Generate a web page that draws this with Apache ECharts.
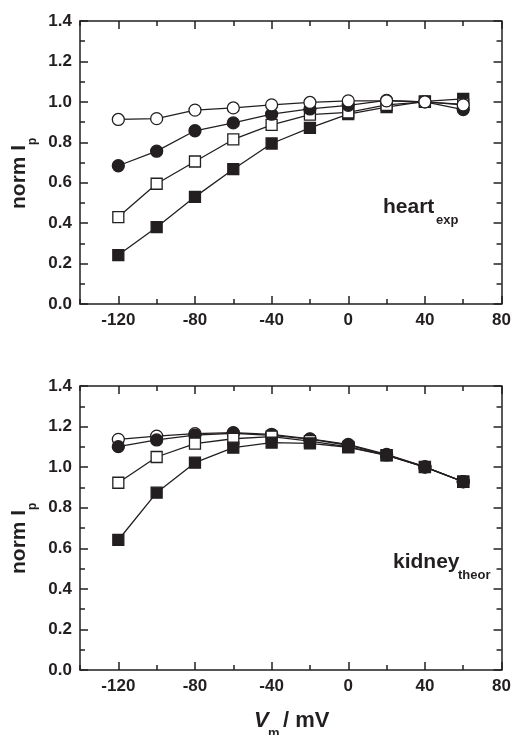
<!DOCTYPE html>
<html>
<head>
<meta charset="utf-8">
<script src="https://cdn.jsdelivr.net/npm/echarts@6/dist/echarts.min.js"></script>
<style>html,body{margin:0;padding:0;background:#fff;}#c{width:514px;height:735px;}</style>
</head>
<body>
<div id="c"></div>
<script>
// ---- data ----
const voltages = [-120, -100, -80, -60, -40, -20, 0, 20, 40, 60];
const xMajorTicks = [-120, -80, -40, 0, 40, 80];
// heart (experimental)
const heartOpenCircle   = [0.913, 0.917, 0.959, 0.970, 0.985, 0.997, 1.005, 1.005, 1.000, 0.985];
const heartFilledCircle = [0.684, 0.756, 0.857, 0.896, 0.939, 0.965, 0.983, 1.007, 1.000, 0.962];
const heartOpenSquare   = [0.430, 0.595, 0.705, 0.814, 0.886, 0.937, 0.948, 0.985, 1.000, 0.988];
const heartFilledSquare = [0.242, 0.380, 0.530, 0.667, 0.794, 0.871, 0.939, 0.974, 1.002, 1.015];
// kidney (theoretical)
const kidneyOpenCircle   = [1.137, 1.153, 1.165, 1.170, 1.162, 1.139, 1.112, 1.063, 1.002, 0.928];
const kidneyFilledCircle = [1.101, 1.134, 1.158, 1.167, 1.157, 1.138, 1.108, 1.060, 1.000, 0.929];
const kidneyOpenSquare   = [0.923, 1.050, 1.116, 1.140, 1.150, 1.128, 1.100, 1.059, 1.000, 0.928];
const kidneyFilledSquare = [0.641, 0.874, 1.022, 1.096, 1.121, 1.117, 1.098, 1.058, 1.001, 0.928];

const INK = '#231f20';
const FONT = '"Liberation Sans", Arial, sans-serif';

const grids = [
  { left: 80, top: 21, width: 423, height: 283 },
  { left: 80, top: 386, width: 423, height: 284 }
];

const lineSt = { color: INK, width: 1.5 };

function xAxesFor(gi) {
  const base = { type: 'value', gridIndex: gi, min: -140, max: 80, splitLine: { show: false } };
  return [
    Object.assign({}, base, {
      position: 'bottom',
      axisLine: { show: true, onZero: false, lineStyle: lineSt },
      axisTick: { show: true, inside: true, length: 8, customValues: xMajorTicks, lineStyle: lineSt },
      axisLabel: { show: true, customValues: xMajorTicks, margin: 8, color: INK, fontSize: 17, fontWeight: 'bold', fontFamily: FONT }
    }),
    Object.assign({}, base, {
      position: 'bottom', interval: 20,
      axisLine: { show: false, onZero: false },
      axisTick: { show: true, inside: true, length: 5, lineStyle: lineSt },
      axisLabel: { show: false }
    }),
    Object.assign({}, base, {
      position: 'top',
      axisLine: { show: true, onZero: false, lineStyle: lineSt },
      axisTick: { show: true, inside: true, length: 8, customValues: xMajorTicks, lineStyle: lineSt },
      axisLabel: { show: false }
    }),
    Object.assign({}, base, {
      position: 'top', interval: 20,
      axisLine: { show: false, onZero: false },
      axisTick: { show: true, inside: true, length: 5, lineStyle: lineSt },
      axisLabel: { show: false }
    })
  ];
}

function yAxesFor(gi) {
  const base = {
    type: 'value', gridIndex: gi, min: 0, max: 1.4, interval: 0.2,
    splitLine: { show: false },
    axisLine: { show: true, onZero: false, lineStyle: lineSt },
    axisTick: { show: true, inside: true, length: 8, lineStyle: lineSt },
    minorTick: { show: true, splitNumber: 2, length: 5, lineStyle: lineSt }
  };
  return [
    Object.assign({}, base, {
      position: 'left',
      axisLabel: { show: true, margin: 8, color: INK, fontSize: 17, fontWeight: 'bold', fontFamily: FONT,
        formatter: v => v.toFixed(1) }
    }),
    Object.assign({}, base, { position: 'right', axisLabel: { show: false } })
  ];
}

function mkSeries(data, symbol, filled, xi, yi) {
  return {
    type: 'line', xAxisIndex: xi, yAxisIndex: yi,
    data: voltages.map((v, i) => [v, data[i]]),
    symbol: symbol, symbolSize: symbol === 'circle' ? 12 : 11,
    showAllSymbol: true,
    lineStyle: { color: INK, width: 1.3 },
    itemStyle: { color: filled ? INK : '#ffffff', borderColor: INK, borderWidth: 1.3 },
    emphasis: { disabled: true },
    z: 3
  };
}

const series = [
  mkSeries(heartFilledSquare, 'rect', true, 0, 0),
  mkSeries(heartOpenSquare, 'rect', false, 0, 0),
  mkSeries(heartFilledCircle, 'circle', true, 0, 0),
  mkSeries(heartOpenCircle, 'circle', false, 0, 0),
  mkSeries(kidneyOpenCircle, 'circle', false, 4, 2),
  mkSeries(kidneyFilledCircle, 'circle', true, 4, 2),
  mkSeries(kidneyOpenSquare, 'rect', false, 4, 2),
  mkSeries(kidneyFilledSquare, 'rect', true, 4, 2)
];

function txt(x, y, text, size, opts) {
  return {
    type: 'text', x: x, y: y, rotation: (opts && opts.rotation) || 0,
    style: Object.assign({
      text: text, fill: INK, font: 'bold ' + size + 'px ' + FONT,
      textAlign: 'left', textVerticalAlign: 'bottom'
    }, (opts && opts.style) || {})
  };
}

const graphics = [
  // y-axis names (rotated)
  { type: 'group', x: 30, y: 209, rotation: Math.PI / 2, children: [
    txt(0, 0, 'norm I', 21),
    txt(64, 9, 'p', 12)
  ]},
  { type: 'group', x: 30, y: 574, rotation: Math.PI / 2, children: [
    txt(0, 0, 'norm I', 21),
    txt(64, 9, 'p', 12)
  ]},
  // panel labels
  txt(383, 218, 'heart', 21),
  txt(436, 227, 'exp', 13),
  txt(393, 573, 'kidney', 21),
  txt(458, 582, 'theor', 13),
  // x-axis name
  txt(254, 732, 'V', 22, { style: { font: 'italic bold 22px ' + FONT } }),
  txt(268, 740, 'm', 13),
  txt(283, 732, '/ mV', 22)
];

const chart = echarts.init(document.getElementById('c'), null, { renderer: 'canvas' });
chart.setOption({
  animation: false,
  backgroundColor: '#ffffff',
  grid: grids,
  xAxis: xAxesFor(0).concat(xAxesFor(1)),
  yAxis: yAxesFor(0).concat(yAxesFor(1)),
  series: series,
  graphic: graphics
});
</script>
</body>
</html>
